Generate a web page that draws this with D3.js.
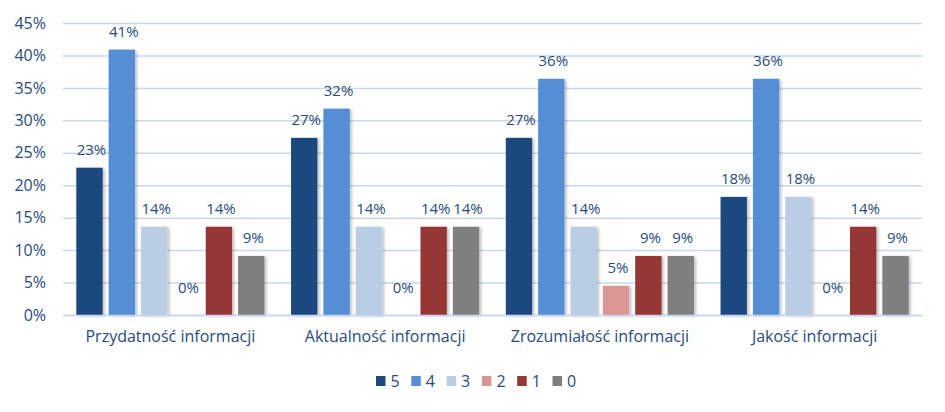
<!DOCTYPE html>
<html><head><meta charset="utf-8">
<script src="https://cdn.jsdelivr.net/npm/d3@7"></script>
<style>
html,body{margin:0;padding:0;background:#fff;}
text{font-family:"Open Sans","Noto Sans",sans-serif;}
</style></head>
<body>
<svg id="chart" width="945" height="412"></svg>
<script>
const categories = ["Przydatność informacji","Aktualność informacji","Zrozumiałość informacji","Jakość informacji"];
const seriesNames = ["5","4","3","2","1","0"];
const values5 = [22.7, 27.3, 27.3, 18.2];
const values4 = [40.9, 31.8, 36.4, 36.4];
const values3 = [13.6, 13.6, 13.6, 18.2];
const values2 = [0, 0, 4.5, 0];
const values1 = [13.6, 13.6, 9.1, 13.6];
const values0 = [9.1, 13.6, 9.1, 9.1];
const colors = ["#1F497D","#558ED5","#B9CDE5","#D99694","#953735","#7F7F7F"];
const yTicks = [0,5,10,15,20,25,30,35,40,45];

const seriesValues = [values5, values4, values3, values2, values1, values0];
const textColor = "#2B4B7B";
const fs = 16;
const svg = d3.select("#chart");
const margin = {left:63, right:23, top:23, bottom:97};
const W = 945, H = 412;
const x0 = d3.scaleBand().domain(categories).range([margin.left, W - margin.right]).padding(0);
const x1 = d3.scaleBand().domain(seriesNames).range([13.3, x0.bandwidth() - 13.3]).paddingInner(0.185).paddingOuter(0);
const y = d3.scaleLinear().domain([0,45]).range([H - margin.bottom, margin.top]);

const defs = svg.append("defs");
const f = defs.append("filter").attr("id","sh").attr("x","-20%").attr("y","-10%").attr("width","150%").attr("height","130%");
f.append("feGaussianBlur").attr("in","SourceAlpha").attr("stdDeviation",1.5).attr("result","b");
f.append("feOffset").attr("in","b").attr("dx",2).attr("dy",1).attr("result","o");
f.append("feComponentTransfer").attr("in","o").attr("result","o2").append("feFuncA").attr("type","linear").attr("slope",0.25);
const m = f.append("feMerge"); m.append("feMergeNode").attr("in","o2"); m.append("feMergeNode").attr("in","SourceGraphic");

// gridlines
const yAxis = d3.axisLeft(y).tickValues(yTicks).tickSize(-(W - margin.left - margin.right)).tickFormat(d => d + "%").tickPadding(17);
const ga = svg.append("g").attr("transform", `translate(${margin.left},0)`).call(yAxis);
ga.select(".domain").remove();
ga.selectAll(".tick line").attr("stroke","#C9D8EC").attr("stroke-width",1.5);
ga.selectAll(".tick text").attr("fill",textColor).attr("font-size",fs).attr("text-anchor","end");

// bars
const data = [];
categories.forEach((c,i) => seriesNames.forEach((s,j) => data.push({c, s, v: seriesValues[j][i], color: colors[j]})));
const g = svg.append("g");
g.selectAll("rect").data(data.filter(d => d.v > 0)).join("rect")
  .attr("x", d => x0(d.c) + x1(d.s))
  .attr("y", d => y(d.v))
  .attr("width", x1.bandwidth())
  .attr("height", d => y(0) - y(d.v))
  .attr("fill", d => d.color)
  .attr("filter","url(#sh)");

// labels
svg.append("g").selectAll("text").data(data).join("text")
  .attr("x", d => x0(d.c) + x1(d.s) + x1.bandwidth()/2 + 2)
  .attr("y", d => y(d.v) - (d.v === 0 ? 22 : 13))
  .attr("text-anchor","middle")
  .attr("fill", textColor)
  .attr("font-size",15)
  .text(d => Math.round(d.v) + "%");

// x axis
const xAxis = d3.axisBottom(x0).tickSize(0).tickPadding(16);
const gx = svg.append("g").attr("transform", `translate(0,${y(0)})`).call(xAxis);
gx.select(".domain").attr("stroke","#C9D8EC").attr("stroke-width",1.5);
gx.selectAll(".tick text").attr("fill",textColor).attr("font-size",fs);

// legend
const lg = svg.append("g").attr("transform","translate(376,376)");
const items = lg.selectAll("g").data(seriesNames).join("g").attr("transform",(d,i)=>`translate(${i*35.3},0)`);
items.append("rect").attr("width",9.5).attr("height",10).attr("fill",(d,i)=>colors[i]);
items.append("text").attr("x",14.5).attr("y",11).attr("fill",textColor).attr("font-size",fs).text(d=>d);
</script>
</body></html>
